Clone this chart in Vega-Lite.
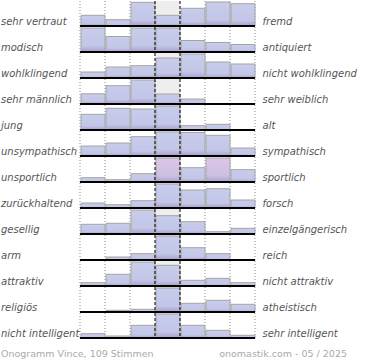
{
  "$schema": "https://vega.github.io/schema/vega-lite/v6.json",
  "padding": 0,
  "background": "white",
  "bounds": "flush",
  "config": {"view": {"stroke": null}},
  "data": {"values": [
    {"r":0,"L":"sehr vertraut","R":"fremd","k":0,"v":10.7,"hl":0},{"r":0,"L":"sehr vertraut","R":"fremd","k":1,"v":6.3,"hl":0},{"r":0,"L":"sehr vertraut","R":"fremd","k":2,"v":23.7,"hl":0},{"r":0,"L":"sehr vertraut","R":"fremd","k":3,"v":10.7,"hl":0},{"r":0,"L":"sehr vertraut","R":"fremd","k":4,"v":17.7,"hl":0},{"r":0,"L":"sehr vertraut","R":"fremd","k":5,"v":24,"hl":0},{"r":0,"L":"sehr vertraut","R":"fremd","k":6,"v":22.3,"hl":0},
    {"r":1,"L":"modisch","R":"antiquiert","k":0,"v":24,"hl":0},{"r":1,"L":"modisch","R":"antiquiert","k":1,"v":15.5,"hl":0},{"r":1,"L":"modisch","R":"antiquiert","k":2,"v":24,"hl":0},{"r":1,"L":"modisch","R":"antiquiert","k":3,"v":24,"hl":0},{"r":1,"L":"modisch","R":"antiquiert","k":4,"v":11.5,"hl":0},{"r":1,"L":"modisch","R":"antiquiert","k":5,"v":9.5,"hl":0},{"r":1,"L":"modisch","R":"antiquiert","k":6,"v":7.5,"hl":0},
    {"r":2,"L":"wohlklingend","R":"nicht wohlklingend","k":0,"v":6,"hl":0},{"r":2,"L":"wohlklingend","R":"nicht wohlklingend","k":1,"v":11,"hl":0},{"r":2,"L":"wohlklingend","R":"nicht wohlklingend","k":2,"v":12.3,"hl":0},{"r":2,"L":"wohlklingend","R":"nicht wohlklingend","k":3,"v":20,"hl":0},{"r":2,"L":"wohlklingend","R":"nicht wohlklingend","k":4,"v":24,"hl":0},{"r":2,"L":"wohlklingend","R":"nicht wohlklingend","k":5,"v":16,"hl":0},{"r":2,"L":"wohlklingend","R":"nicht wohlklingend","k":6,"v":14,"hl":0},
    {"r":3,"L":"sehr männlich","R":"sehr weiblich","k":0,"v":10.2,"hl":0},{"r":3,"L":"sehr männlich","R":"sehr weiblich","k":1,"v":18.3,"hl":0},{"r":3,"L":"sehr männlich","R":"sehr weiblich","k":2,"v":24,"hl":0},{"r":3,"L":"sehr männlich","R":"sehr weiblich","k":3,"v":10,"hl":0},{"r":3,"L":"sehr männlich","R":"sehr weiblich","k":4,"v":5,"hl":0},{"r":3,"L":"sehr männlich","R":"sehr weiblich","k":5,"v":0,"hl":0},{"r":3,"L":"sehr männlich","R":"sehr weiblich","k":6,"v":0,"hl":0},
    {"r":4,"L":"\u00a0jung","R":"alt","k":0,"v":15.7,"hl":0},{"r":4,"L":"\u00a0jung","R":"alt","k":1,"v":21.7,"hl":0},{"r":4,"L":"\u00a0jung","R":"alt","k":2,"v":21,"hl":0},{"r":4,"L":"\u00a0jung","R":"alt","k":3,"v":24,"hl":0},{"r":4,"L":"\u00a0jung","R":"alt","k":4,"v":4.3,"hl":0},{"r":4,"L":"\u00a0jung","R":"alt","k":5,"v":5.7,"hl":0},{"r":4,"L":"\u00a0jung","R":"alt","k":6,"v":0,"hl":0},
    {"r":5,"L":"unsympathisch","R":"sympathisch","k":0,"v":10,"hl":0},{"r":5,"L":"unsympathisch","R":"sympathisch","k":1,"v":13,"hl":0},{"r":5,"L":"unsympathisch","R":"sympathisch","k":2,"v":19.3,"hl":0},{"r":5,"L":"unsympathisch","R":"sympathisch","k":3,"v":24,"hl":0},{"r":5,"L":"unsympathisch","R":"sympathisch","k":4,"v":23.5,"hl":0},{"r":5,"L":"unsympathisch","R":"sympathisch","k":5,"v":20.7,"hl":0},{"r":5,"L":"unsympathisch","R":"sympathisch","k":6,"v":8,"hl":0},
    {"r":6,"L":"unsportlich","R":"sportlich","k":0,"v":4.3,"hl":0},{"r":6,"L":"unsportlich","R":"sportlich","k":1,"v":2.3,"hl":0},{"r":6,"L":"unsportlich","R":"sportlich","k":2,"v":8.3,"hl":0},{"r":6,"L":"unsportlich","R":"sportlich","k":3,"v":24,"hl":1},{"r":6,"L":"unsportlich","R":"sportlich","k":4,"v":14.3,"hl":0},{"r":6,"L":"unsportlich","R":"sportlich","k":5,"v":24,"hl":1},{"r":6,"L":"unsportlich","R":"sportlich","k":6,"v":12.3,"hl":0},
    {"r":7,"L":"zurückhaltend","R":"forsch","k":0,"v":5,"hl":0},{"r":7,"L":"zurückhaltend","R":"forsch","k":1,"v":3.3,"hl":0},{"r":7,"L":"zurückhaltend","R":"forsch","k":2,"v":7.3,"hl":0},{"r":7,"L":"zurückhaltend","R":"forsch","k":3,"v":24,"hl":0},{"r":7,"L":"zurückhaltend","R":"forsch","k":4,"v":18,"hl":0},{"r":7,"L":"zurückhaltend","R":"forsch","k":5,"v":19.3,"hl":0},{"r":7,"L":"zurückhaltend","R":"forsch","k":6,"v":8,"hl":0},
    {"r":8,"L":"gesellig","R":"einzelgängerisch","k":0,"v":9.7,"hl":0},{"r":8,"L":"gesellig","R":"einzelgängerisch","k":1,"v":10.7,"hl":0},{"r":8,"L":"gesellig","R":"einzelgängerisch","k":2,"v":24,"hl":0},{"r":8,"L":"gesellig","R":"einzelgängerisch","k":3,"v":18.3,"hl":0},{"r":8,"L":"gesellig","R":"einzelgängerisch","k":4,"v":12.3,"hl":0},{"r":8,"L":"gesellig","R":"einzelgängerisch","k":5,"v":2.3,"hl":0},{"r":8,"L":"gesellig","R":"einzelgängerisch","k":6,"v":5.7,"hl":0},
    {"r":9,"L":"arm","R":"reich","k":0,"v":0,"hl":0},{"r":9,"L":"arm","R":"reich","k":1,"v":3,"hl":0},{"r":9,"L":"arm","R":"reich","k":2,"v":6.3,"hl":0},{"r":9,"L":"arm","R":"reich","k":3,"v":24,"hl":0},{"r":9,"L":"arm","R":"reich","k":4,"v":12.3,"hl":0},{"r":9,"L":"arm","R":"reich","k":5,"v":6.3,"hl":0},{"r":9,"L":"arm","R":"reich","k":6,"v":0,"hl":0},
    {"r":10,"L":"attraktiv","R":"nicht attraktiv","k":0,"v":3.3,"hl":0},{"r":10,"L":"attraktiv","R":"nicht attraktiv","k":1,"v":11.7,"hl":0},{"r":10,"L":"attraktiv","R":"nicht attraktiv","k":2,"v":24,"hl":0},{"r":10,"L":"attraktiv","R":"nicht attraktiv","k":3,"v":20.7,"hl":0},{"r":10,"L":"attraktiv","R":"nicht attraktiv","k":4,"v":5.7,"hl":0},{"r":10,"L":"attraktiv","R":"nicht attraktiv","k":5,"v":7.7,"hl":0},{"r":10,"L":"attraktiv","R":"nicht attraktiv","k":6,"v":3.3,"hl":0},
    {"r":11,"L":"religiös","R":"atheistisch","k":0,"v":0,"hl":0},{"r":11,"L":"religiös","R":"atheistisch","k":1,"v":1.7,"hl":0},{"r":11,"L":"religiös","R":"atheistisch","k":2,"v":2.7,"hl":0},{"r":11,"L":"religiös","R":"atheistisch","k":3,"v":24,"hl":0},{"r":11,"L":"religiös","R":"atheistisch","k":4,"v":8.7,"hl":0},{"r":11,"L":"religiös","R":"atheistisch","k":5,"v":11.7,"hl":0},{"r":11,"L":"religiös","R":"atheistisch","k":6,"v":7.7,"hl":0},
    {"r":12,"L":"nicht intelligent","R":"sehr intelligent","k":0,"v":4.3,"hl":0},{"r":12,"L":"nicht intelligent","R":"sehr intelligent","k":1,"v":2,"hl":0},{"r":12,"L":"nicht intelligent","R":"sehr intelligent","k":2,"v":12.7,"hl":0},{"r":12,"L":"nicht intelligent","R":"sehr intelligent","k":3,"v":24,"hl":0},{"r":12,"L":"nicht intelligent","R":"sehr intelligent","k":4,"v":12.7,"hl":0},{"r":12,"L":"nicht intelligent","R":"sehr intelligent","k":5,"v":7.7,"hl":0},{"r":12,"L":"nicht intelligent","R":"sehr intelligent","k":6,"v":2.7,"hl":0}
  ]},
  "spacing": 0,
  "facet": {"row": {"field": "r", "type": "ordinal", "header": null}},
  "spec": {
    "width": 370,
    "height": 26,
    "encoding": {
      "x": {"type": "quantitative", "scale": {"domain": [-3.2, 11.6], "nice": false, "zero": false}, "axis": null},
      "y": {"type": "quantitative", "scale": {"domain": [-1, 25], "nice": false, "zero": false}, "axis": null}
    },
    "layer": [
      {"transform": [{"filter": "datum.k == 0"}], "mark": {"type": "rect", "fill": "#eeeeee"},
       "encoding": {"x": {"datum": 3, "type": "quantitative"}, "x2": {"datum": 4}, "y": {"datum": 0, "type": "quantitative"}, "y2": {"datum": 25}}},
      {"transform": [{"filter": "datum.k == 0"}], "mark": {"type": "rule", "color": "#8a8a8a", "strokeDash": [1, 2], "strokeWidth": 1},
       "encoding": {"x": {"datum": 0, "type": "quantitative"}}},
      {"transform": [{"filter": "datum.k == 0"}], "mark": {"type": "rule", "color": "#8a8a8a", "strokeDash": [1, 2], "strokeWidth": 1},
       "encoding": {"x": {"datum": 1, "type": "quantitative"}}},
      {"transform": [{"filter": "datum.k == 0"}], "mark": {"type": "rule", "color": "#8a8a8a", "strokeDash": [1, 2], "strokeWidth": 1},
       "encoding": {"x": {"datum": 2, "type": "quantitative"}}},
      {"transform": [{"filter": "datum.k == 0"}], "mark": {"type": "rule", "color": "#8a8a8a", "strokeDash": [1, 2], "strokeWidth": 1},
       "encoding": {"x": {"datum": 5, "type": "quantitative"}}},
      {"transform": [{"filter": "datum.k == 0"}], "mark": {"type": "rule", "color": "#8a8a8a", "strokeDash": [1, 2], "strokeWidth": 1},
       "encoding": {"x": {"datum": 6, "type": "quantitative"}}},
      {"transform": [{"filter": "datum.k == 0"}], "mark": {"type": "rule", "color": "#8a8a8a", "strokeDash": [1, 2], "strokeWidth": 1},
       "encoding": {"x": {"datum": 7, "type": "quantitative"}}},
      {"transform": [{"filter": "datum.hl == 0"}],
       "mark": {"type": "bar", "stroke": "#a4a4a4", "strokeWidth": 1,
         "color": {"gradient": "linear", "x1": 0, "y1": 0, "x2": 0, "y2": 1, "stops": [{"offset": 0, "color": "#c8cdec"}, {"offset": 0.75, "color": "#c2c6e7"}, {"offset": 1, "color": "#a99ecd"}]}},
       "encoding": {"x": {"field": "k", "type": "quantitative", "bin": {"binned": true, "step": 1}}, "y": {"field": "v", "type": "quantitative"}, "y2": {"datum": 0}}},
      {"transform": [{"filter": "datum.hl == 1"}],
       "mark": {"type": "bar", "stroke": "#a4a4a4", "strokeWidth": 1,
         "color": {"gradient": "linear", "x1": 0, "y1": 0, "x2": 0, "y2": 1, "stops": [{"offset": 0, "color": "#dcc6e6"}, {"offset": 0.75, "color": "#cbc0e2"}, {"offset": 1, "color": "#a99ecd"}]}},
       "encoding": {"x": {"field": "k", "type": "quantitative", "bin": {"binned": true, "step": 1}}, "y": {"field": "v", "type": "quantitative"}, "y2": {"datum": 0}}},
      {"transform": [{"filter": "datum.k == 0"}], "mark": {"type": "rule", "color": "black", "strokeDash": [3, 2], "strokeWidth": 1},
       "encoding": {"x": {"datum": 3, "type": "quantitative"}}},
      {"transform": [{"filter": "datum.k == 0"}], "mark": {"type": "rule", "color": "black", "strokeDash": [3, 2], "strokeWidth": 1},
       "encoding": {"x": {"datum": 4, "type": "quantitative"}}},
      {"transform": [{"filter": "datum.k == 0"}], "mark": {"type": "rule", "color": "black", "strokeWidth": 2},
       "encoding": {"x": {"datum": 0, "type": "quantitative"}, "x2": {"datum": 7}, "y": {"datum": 0, "type": "quantitative"}}},
      {"transform": [{"filter": "datum.k == 0"}], "mark": {"type": "text", "align": "left", "baseline": "alphabetic", "font": "DejaVu Sans", "fontStyle": "italic", "fontSize": 10, "color": "#555555"},
       "encoding": {"x": {"datum": -3.16, "type": "quantitative"}, "y": {"datum": 0.6, "type": "quantitative"}, "text": {"field": "L"}}},
      {"transform": [{"filter": "datum.k == 0"}], "mark": {"type": "text", "align": "left", "baseline": "alphabetic", "font": "DejaVu Sans", "fontStyle": "italic", "fontSize": 10, "color": "#555555"},
       "encoding": {"x": {"datum": 7.3, "type": "quantitative"}, "y": {"datum": 0.6, "type": "quantitative"}, "text": {"field": "R"}}},
      {"transform": [{"filter": "datum.k == 0 && datum.r == 12"}], "mark": {"type": "text", "align": "left", "baseline": "alphabetic", "font": "DejaVu Sans", "fontSize": 9.5, "color": "#aaaaaa", "text": "Onogramm Vince, 109 Stimmen"},
       "encoding": {"x": {"datum": -3.16, "type": "quantitative"}, "y": {"datum": -19, "type": "quantitative"}}},
      {"transform": [{"filter": "datum.k == 0 && datum.r == 12"}], "mark": {"type": "text", "align": "right", "baseline": "alphabetic", "font": "DejaVu Sans", "fontSize": 9.5, "color": "#aaaaaa", "text": "onomastik.com - 05 / 2025"},
       "encoding": {"x": {"datum": 10.68, "type": "quantitative"}, "y": {"datum": -19, "type": "quantitative"}}}
    ]
  }
}
